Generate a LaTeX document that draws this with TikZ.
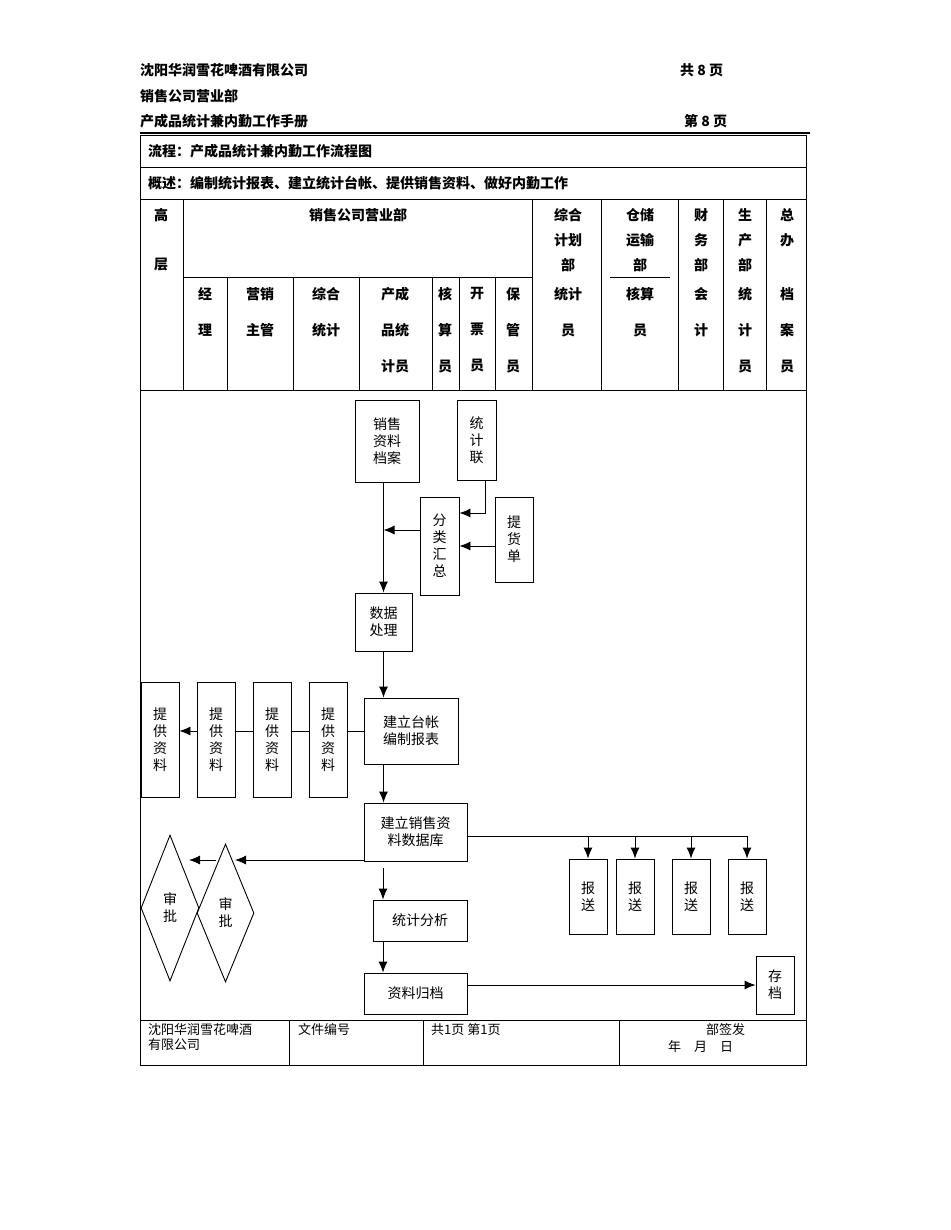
\documentclass[tikz,border=0pt]{standalone}
\usepackage{fontspec}
\setmainfont{Noto Sans CJK SC}
\usetikzlibrary{arrows.meta,shapes.geometric}

\tikzset{
  box/.style={draw, fill=white, line width=0.9pt, inner sep=0pt, align=center, font=\fontsize{14}{17}\selectfont},
  arr/.style={-{Latex[length=11pt,width=9pt]}, line width=0.9pt},
  hd/.style={inner sep=0pt, anchor=west, font=\fontsize{14}{16}\selectfont\bfseries},
  cl/.style={inner sep=0pt, font=\fontsize{14}{16}\selectfont\bfseries},
  ft/.style={inner sep=0pt, anchor=north west, font=\fontsize{13}{15}\selectfont}
}

\begin{document}
\begin{tikzpicture}[x=1pt,y=1pt,yscale=-1]
    \useasboundingbox (0,0) rectangle (950,1230);

    % page head
    \node[hd] (co) at (140,70) {沈阳华润雪花啤酒有限公司};
    \node[hd] (pg1) at (680,70) {共 8 页};
    \node[hd] (dep) at (140,96) {销售公司营业部};
    \node[hd] (man) at (140,121) {产成品统计兼内勤工作手册};
    \node[hd] (pg2) at (684,121) {第 8 页};
    \draw[line width=1.6pt] (140,133) -- (810,133);

    % table frame
    \draw[line width=0.9pt] (140,135) rectangle (806,1065);
    \draw[line width=0.9pt] (140,167) -- (806,167);
    \draw[line width=0.9pt] (140,199) -- (806,199);
    \draw[line width=0.9pt] (183,277) -- (532,277);
    \draw[line width=0.9pt] (610,277) -- (670,277);
    \draw[line width=0.9pt] (140,390) -- (806,390);
    \draw[line width=0.9pt] (140,1020) -- (806,1020);
    \foreach \x in {183,532,601,678,723,766}
      \draw[line width=0.9pt] (\x,199) -- (\x,390);
    \foreach \x in {227,293,359,432,459,495}
      \draw[line width=0.9pt] (\x,277) -- (\x,390);
    \foreach \x in {289,423,619}
      \draw[line width=0.9pt] (\x,1020) -- (\x,1065);

    \node[hd] (flow) at (148,151) {流程：产成品统计兼内勤工作流程图};
    \node[hd] (sum) at (148,183) {概述：编制统计报表、建立统计台帐、提供销售资料、做好内勤工作};

    % lane heads
    \node[cl] (g1) at (161,215) {高};
    \node[cl] (g2) at (161,265) {层};
    \node[cl] (yyb) at (358,215) {销售公司营业部};
    \node[cl, align=center] (zhjh) at (568,240) {综合\\[9pt]计划\\[9pt]部};
    \node[cl, align=center] (ccys) at (640,240) {仓储\\[9pt]运输\\[9pt]部};
    \node[cl, align=center] (cwb) at (701,240) {财\\[9pt]务\\[9pt]部};
    \node[cl, align=center] (scb) at (745,240) {生\\[9pt]产\\[9pt]部};
    \node[cl, align=center] (zb) at (787,228) {总\\[9pt]办};

    \node[cl, align=center] (jl) at (205,312) {经\\[20pt]理};
    \node[cl, align=center] (yx) at (260,312) {营销\\[20pt]主管};
    \node[cl, align=center] (zh) at (326,312) {综合\\[20pt]统计};
    \node[cl, align=center] (cc) at (395,330) {产成\\[20pt]品统\\[20pt]计员};
    \node[cl, align=center] (hs) at (445,330) {核\\[20pt]算\\[20pt]员};
    \node[cl, align=center] (kp) at (477,330) {开\\[20pt]票\\[20pt]员};
    \node[cl, align=center] (bg) at (513,330) {保\\[20pt]管\\[20pt]员};
    \node[cl, align=center] (tj) at (568,312) {统计\\[20pt]员};
    \node[cl, align=center] (hsy) at (640,312) {核算\\[20pt]员};
    \node[cl, align=center] (kj) at (701,312) {会\\[20pt]计};
    \node[cl, align=center] (tjy) at (745,330) {统\\[20pt]计\\[20pt]员};
    \node[cl, align=center] (da) at (787,330) {档\\[20pt]案\\[20pt]员};

    % flow boxes
    \node[box, minimum width=64, minimum height=82] (xs) at (387,441) {销售\\资料\\档案};
    \node[box, minimum width=39, minimum height=80] (tjl) at (476.5,440) {统\\计\\联};
    \node[box, minimum width=39, minimum height=98] (flhz) at (439.5,546) {分\\类\\汇\\总};
    \node[box, minimum width=38, minimum height=85] (thd) at (514,539.5) {提\\货\\单};
    \node[box, minimum width=57, minimum height=58] (sjcl) at (383.5,622) {数据\\处理};
    \node[box, minimum width=94, minimum height=66] (jltz) at (411,731) {建立台帐\\编制报表};
    \foreach \i/\x in {1/160,2/216,3/272,4/328}
      \node[box, minimum width=38, minimum height=115] (tg\i) at (\x,739.5) {提\\供\\资\\料};
    \node[box, minimum width=103, minimum height=58] (jlsj) at (415.5,832) {建立销售资\\料数据库};
    \node[box, minimum width=94, minimum height=41] (tjfx) at (420,920.5) {统计分析};
    \node[box, minimum width=103, minimum height=41] (zlgd) at (415.5,993.5) {资料归档};
    \foreach \i/\x in {1/588,2/635,3/691,4/747}
      \node[box, minimum width=38, minimum height=75] (bs\i) at (\x,896.5) {报\\送};
    \node[box, minimum width=38, minimum height=58] (cd) at (775,985) {存\\档};
    \node[box, diamond, fill=none, minimum width=58, minimum height=146] (sp1) at (170,908) {审\\批};
    \node[box, diamond, fill=none, minimum width=57, minimum height=138] (sp2) at (225.5,913) {审\\批};

    \coordinate (d2in) at (235,860);
    \coordinate (d1out) at (216,860);
    \coordinate (d1in) at (189,860);
    \coordinate (tjstart) at (383,868);
    \coordinate (bsline) at (467,836);

    % connectors
    \draw[arr] (xs.south -| sjcl) -- (sjcl.north);
    \draw[arr] ([xshift=9pt]tjl.south) |- ([yshift=-33pt]flhz.east);
    \draw[arr] (thd.west |- flhz.east) -- (flhz.east);
    \draw[arr] ([yshift=-16pt]flhz.west) -- ([yshift=-16pt]flhz.west -| sjcl);
    \draw[arr] (sjcl.south) -- (jltz.north -| sjcl);
    \draw[line width=0.9pt] (jltz.west) -- (jltz.west -| tg4.east);
    \draw[line width=0.9pt] (jltz.west -| tg4.west) -- (jltz.west -| tg3.east);
    \draw[line width=0.9pt] (jltz.west -| tg3.west) -- (jltz.west -| tg2.east);
    \draw[arr] (jltz.west -| tg2.west) -- (jltz.west -| tg1.east);
    \draw[arr] (jltz.south -| sjcl) -- (jlsj.north -| sjcl);
    \draw[arr] (jlsj.south west |- d2in) -- (d2in);
    \draw[arr] (d1out) -- (d1in);
    \draw[arr] (tjstart) -- (tjstart |- tjfx.north);
    \draw[arr] (tjfx.south -| tjstart) -- (zlgd.north -| tjstart);
    \draw[arr] (bsline) -| (bs4.north);
    \foreach \i in {1,2,3}
      \draw[arr] (bs\i.north |- bsline) -- (bs\i.north);
    \draw[arr] (zlgd.east |- cd.west) -- (cd.west);

    % foot
    \node[ft, align=left] (fco) at (148,1023) {沈阳华润雪花啤酒\\有限公司};
    \node[ft] (fno) at (298,1023) {文件编号};
    \node[ft] (fpg) at (431,1023) {共1页 第1页};
    \node[ft] (fqf) at (706,1023) {部签发};
    \node[ft] (fdt) at (668,1040) {年\quad 月\quad 日};
\end{tikzpicture}
\end{document}
